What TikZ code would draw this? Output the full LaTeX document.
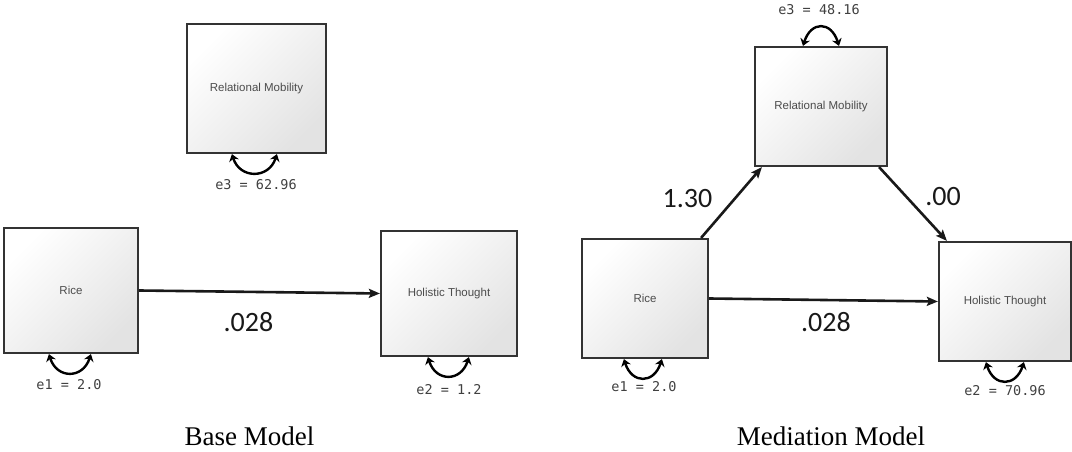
\documentclass[tikz,border=0pt]{standalone}
\usepackage{fontspec}
\setmainfont{Liberation Serif}
\newfontfamily\varfont{Liberation Sans}
\newfontfamily\errfont{DejaVu Sans Mono}
\newfontfamily\coeffont{Carlito}
\usetikzlibrary{arrows.meta,calc}

\tikzset{
    varbox/.style={draw=black!80, line width=2.2pt, top color=white, bottom color=black!11,
        shading angle=45, inner sep=0pt, text=black!70,
        font=\varfont\fontsize{11.5}{13}\selectfont},
    errloop/.style={{Stealth[length=7pt,width=10pt]}-{Stealth[length=7pt,width=10pt]}, line width=2.4pt},
    errlabel/.style={text=black!75, font=\errfont\fontsize{13.5}{15}\selectfont},
    effect/.style={-{Stealth[length=11pt,width=9pt,inset=2pt]}, line width=2.6pt, black!90},
    coef/.style={text=black!90, font=\coeffont\fontsize{28}{30}\selectfont},
    caption/.style={anchor=base, font=\fontsize{27}{30}\selectfont}
}

\begin{document}
\begin{tikzpicture}[x=1pt, y=1pt]
    \useasboundingbox (0,0) rectangle (1072,452);

    % Boxes
    \foreach \name/\x/\y/\w/\h/\txt in {bRM/256.5/363.5/139/129/Relational Mobility,
        bRice/71/161.5/134/125/Rice, bHol/449/158.5/136/125/Holistic Thought,
        mRM/821/345.5/132/119/Relational Mobility, mRice/645/153.5/126/119/Rice,
        mHol/1005/150.5/132/119/Holistic Thought} {
        \node [varbox, minimum width=\w pt, minimum height=\h pt] (\name) at (\x,\y) {\txt};
    }

    % Error loops
    \foreach \name/\a/\b in {bRM/46/91, bRice/46/88, bHol/48/89, mRice/43/81, mHol/48/86} {
        \draw [errloop] ([xshift=\a pt]\name.south west) .. controls +(8,-25) and +(-8,-25) .. ([xshift=\b pt]\name.south west);
    }
    \draw [errloop] ([xshift=-18pt]mRM.north) .. controls +(8,25) and +(-8,25) .. ([xshift=18pt]mRM.north);

    % Error labels
    \node [errlabel] (e3b) at (256,267) {e3 = 62.96};
    \node [errlabel] (e1b) at (69,67) {e1 = 2.0};
    \node [errlabel] (e2b) at (449,62) {e2 = 1.2};
    \node [errlabel] (e3m) at (819,442) {e3 = 48.16};
    \node [errlabel] (e1m) at (644,65) {e1 = 2.0};
    \node [errlabel] (e2m) at (1005,61) {e2 = 70.96};

    % Paths
    \draw [effect] (bRice.east) -- (bHol.west);
    \draw [effect] ([xshift=-8pt]mRice.north east) -- ([xshift=8pt]mRM.south west);
    \draw [effect] ([xshift=-9pt]mRM.south east) -- ([xshift=9pt]mHol.north west);
    \draw [effect] (mRice.east) -- (mHol.west);

    % Coefficients
    \node [coef] (c1) at (248.5,130) {.028};
    \node [coef] (c2) at (687.5,253) {1.30};
    \node [coef] (c3) at (943,255) {.00};
    \node [coef] (c4) at (826,130) {.028};

    % Captions
    \node [caption] (base) at (249.5,6) {Base Model};
    \node [caption] (med) at (831,6) {Mediation Model};
\end{tikzpicture}
\end{document}
